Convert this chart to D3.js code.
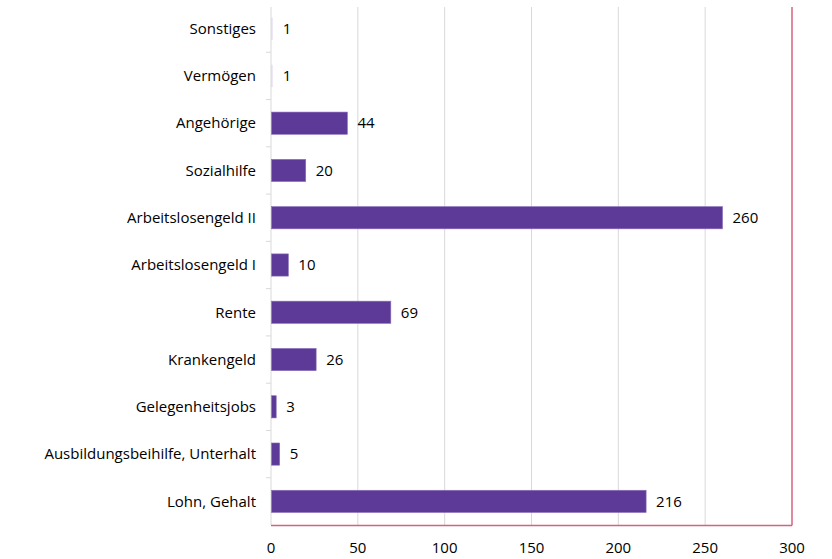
<!DOCTYPE html>
<html>
<head>
<meta charset="utf-8">
<script src="https://cdn.jsdelivr.net/npm/d3@7"></script>
<style>
    body { margin: 0; background: #fff; }
    svg text { font-family: "Open Sans", "Liberation Sans", sans-serif; fill: #000; }
</style>
</head>
<body>
<div class="chart"></div>
<script>
// categories top to bottom, as in the picture
var categories = ["Sonstiges", "Vermögen", "Angehörige", "Sozialhilfe", "Arbeitslosengeld II",
    "Arbeitslosengeld I", "Rente", "Krankengeld", "Gelegenheitsjobs",
    "Ausbildungsbeihilfe, Unterhalt", "Lohn, Gehalt"];
var values = [1, 1, 44, 20, 260, 10, 69, 26, 3, 5, 216];
var xTicks = [0, 50, 100, 150, 200, 250, 300];

var width = 832,
    height = 559;
var margin = {top: 5, right: 40, bottom: 34, left: 271};

var svg = d3.select(".chart").append("svg")
    .attr("width", width)
    .attr("height", height);

var x = d3.scaleLinear()
    .domain([0, 300])
    .range([margin.left, width - margin.right]);

var y = d3.scaleBand()
    .domain(categories)
    .range([margin.top, height - margin.bottom])
    .paddingInner(0.53)
    .paddingOuter(0.265);

var yb = d3.scaleBand()
    .domain(categories)
    .range([margin.top, height - margin.bottom]);

var plotBottom = height - margin.bottom;

// gridlines
svg.append("g")
    .selectAll("line")
    .data(xTicks.slice(1, -1))
    .enter().append("line")
    .attr("x1", function (d) { return x(d); })
    .attr("x2", function (d) { return x(d); })
    .attr("y1", 7)
    .attr("y2", plotBottom)
    .attr("stroke", "#d9d9d9")
    .attr("stroke-width", 1);

// left axis line + ticks between categories
svg.append("line")
    .attr("x1", x(0)).attr("x2", x(0))
    .attr("y1", 7).attr("y2", plotBottom)
    .attr("stroke", "#d9d9d9");

svg.append("g")
    .selectAll("line")
    .data(categories.slice(1))
    .enter().append("line")
    .attr("x1", x(0) - 5).attr("x2", x(0))
    .attr("y1", function (d) { return yb(d); })
    .attr("y2", function (d) { return yb(d); })
    .attr("stroke", "#d9d9d9");

// bars
svg.append("g")
    .selectAll("rect")
    .data(values)
    .enter().append("rect")
    .attr("x", x(0) + 0.5)
    .attr("y", function (d, i) { return y(categories[i]); })
    .attr("width", function (d) { return Math.max(0, x(d) - x(0) - 0.5); })
    .attr("height", y.bandwidth())
    .attr("fill", "#5e3a98")
    .attr("stroke", function (d) { return d > 2 ? "#8a6fbb" : "none"; })
    .attr("stroke-width", 0.6)
    .attr("fill-opacity", function (d) { return d > 2 ? 1 : 0.15; });

// value labels
svg.append("g")
    .selectAll("text")
    .data(values)
    .enter().append("text")
    .attr("x", function (d) { return x(d) + 10; })
    .attr("y", function (d, i) { return yb(categories[i]) + yb.bandwidth() / 2; })
    .attr("dy", "0.35em")
    .style("font-size", "15px")
    .text(function (d) { return d; });

// category labels
svg.append("g")
    .selectAll("text")
    .data(categories)
    .enter().append("text")
    .attr("x", 256)
    .attr("y", function (d) { return yb(d) + yb.bandwidth() / 2; })
    .attr("dy", "0.35em")
    .attr("text-anchor", "end")
    .style("font-size", "15px")
    .text(function (d) { return d; });

// bottom axis (red) and right frame at 300
svg.append("line")
    .attr("x1", x(0)).attr("x2", x(300))
    .attr("y1", plotBottom + 0.5).attr("y2", plotBottom + 0.5)
    .attr("stroke", "#d4637f")
    .attr("stroke-width", 1.5);

svg.append("line")
    .attr("x1", x(300)).attr("x2", x(300))
    .attr("y1", 7).attr("y2", plotBottom + 0.5)
    .attr("stroke", "#d4637f")
    .attr("stroke-width", 1.5);

// x tick labels
svg.append("g")
    .selectAll("text")
    .data(xTicks)
    .enter().append("text")
    .attr("x", function (d) { return x(d); })
    .attr("y", plotBottom + 23)
    .attr("dy", "0.35em")
    .attr("text-anchor", "middle")
    .style("font-size", "15px")
    .text(function (d) { return d; });
</script>
</body>
</html>
